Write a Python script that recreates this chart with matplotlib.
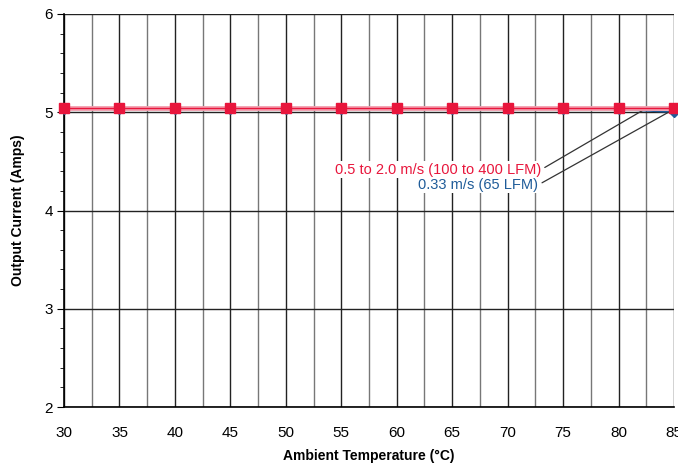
import numpy as np
import matplotlib.pyplot as plt
from matplotlib.ticker import MultipleLocator

plt.rcParams['font.family'] = ['Liberation Sans Narrow', 'Liberation Sans', 'DejaVu Sans']

temps = [30, 35, 40, 45, 50, 55, 60, 65, 70, 75, 80, 85]
corrente_alta = [5.04, 5.04, 5.04, 5.04, 5.04, 5.04, 5.04, 5.04, 5.04, 5.04, 5.04, 5.04]
corrente_bassa = [5.03, 5.03, 5.03, 5.03, 5.03, 5.03, 5.03, 5.03, 5.03, 5.03, 5.03, 5.0]

rosso = '#e8163c'
blu = '#1f5c99'

fig = plt.figure(figsize=(6.78, 4.65), dpi=100)
ax = fig.add_axes([0.0944, 0.1247, 0.8997, 0.8452])

ax.set_xlim(30, 85)
ax.set_ylim(2, 6)
ax.xaxis.set_major_locator(MultipleLocator(5))
ax.xaxis.set_minor_locator(MultipleLocator(2.5))
ax.yaxis.set_major_locator(MultipleLocator(1))
ax.yaxis.set_minor_locator(MultipleLocator(0.2))

ax.grid(True, which='major', axis='both', color='#222222', linewidth=1.0)
ax.grid(True, which='minor', axis='x', color='#777777', linewidth=1.0)
ax.set_axisbelow(True)

ax.tick_params(axis='both', which='both', direction='in', labelsize=11)
ax.tick_params(axis='x', which='both', length=0, pad=14)
ax.tick_params(axis='y', which='major', length=5, direction='out', pad=3)
ax.tick_params(axis='y', which='minor', length=3, direction='out')

for s in ['top', 'right']:
    ax.spines[s].set_visible(False)
ax.spines['left'].set_linewidth(1.2)
ax.spines['bottom'].set_linewidth(1.2)

ax.plot(temps, corrente_bassa, color=blu, linewidth=1.2, marker='D', markersize=5,
        clip_on=False, zorder=3)
ax.plot(temps, corrente_alta, color='#f4a0b0', linewidth=3.5, clip_on=False, zorder=4)
ax.plot(temps, corrente_alta, color=rosso, linewidth=1.0, marker='s', markersize=7,
        clip_on=False, zorder=5)

ax.annotate('0.5 to 2.0 m/s (100 to 400 LFM)', xy=(82.5, 5.04), xytext=(73.0, 4.415),
            color=rosso, fontsize=10.5, ha='right', va='center',
            bbox=dict(boxstyle='square,pad=0.1', fc='white', ec='none'),
            arrowprops=dict(arrowstyle='-', color='#333333', lw=0.9, shrinkA=2, shrinkB=0,
                            relpos=(1, 0.5)))
ax.annotate('0.33 m/s (65 LFM)', xy=(84.5, 5.0), xytext=(72.75, 4.26),
            color=blu, fontsize=10.5, ha='right', va='center',
            bbox=dict(boxstyle='square,pad=0.1', fc='white', ec='none'),
            arrowprops=dict(arrowstyle='-', color='#333333', lw=0.9, shrinkA=2, shrinkB=0,
                            relpos=(1, 0.5)))

ax.set_xlabel('Ambient Temperature (°C)', fontsize=10, fontweight='bold', labelpad=6)
ax.set_ylabel('Output Current (Amps)', fontsize=10, fontweight='bold', labelpad=14)

fig.savefig('out.png', dpi=100)
